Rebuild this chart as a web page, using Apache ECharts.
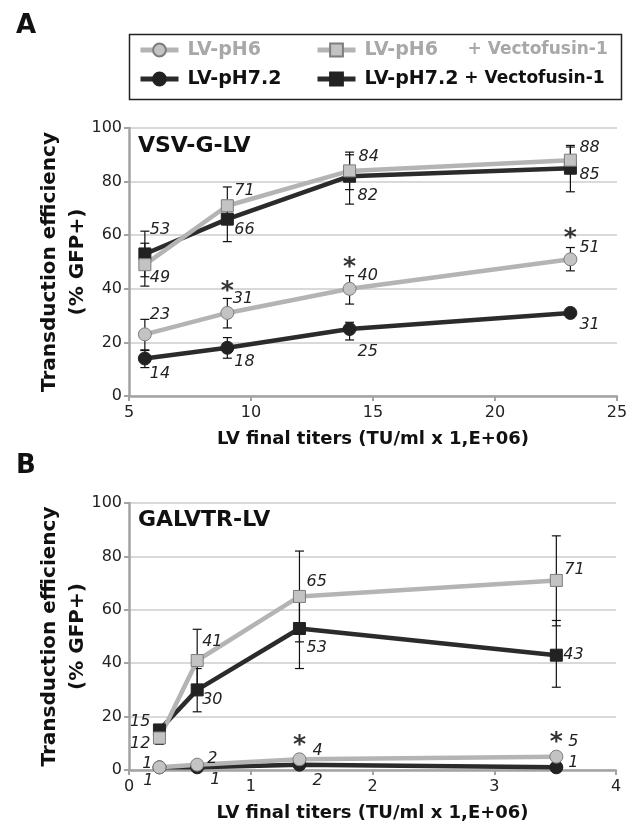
<!DOCTYPE html>
<html>
<head>
<meta charset="utf-8">
<title>LV transduction efficiency</title>
<style>html,body{margin:0;padding:0;background:#fff;}</style>
</head>
<body>
<div id="main" style="width:628px;height:833px;"></div>
<script src="https://cdn.jsdelivr.net/npm/echarts@6/dist/echarts.min.js"></script>
<script>

// ---- panel A : VSV-G-LV ----
var titersA = [5.65, 9.03, 14.04, 23.09];
var ph6A    = [23, 31, 40, 51];
var ph72A   = [14, 18, 25, 31];
var ph6vA   = [49, 71, 84, 88];
var ph72vA  = [53, 66, 82, 85];
var errPh6A   = [[17.2, 28.6], [25.4, 36.4], [34.3, 44.9], [46.7, 55.4]];
var errPh72A  = [[10.6, 17], [14.1, 21.8], [20.9, 27.5], null];
var errPh6vA  = [[41, 57], [64, 78], [77, 91], [83, 92.9]];
var errPh72vA = [[44.5, 61.5], [57.6, 72.6], [71.6, 90], [76.2, 93.5]];
var starsA = [1, 2, 3];   // significant points of LV-pH6

// ---- panel B : GALVTR-LV ----
var titersB = [0.25, 0.56, 1.40, 3.51];
var ph6B    = [1, 2, 4, 5];
var ph72B   = [1, 1, 2, 1];
var ph6vB   = [12, 41, 65, 71];
var ph72vB  = [15, 30, 53, 43];
var errPh6vB  = [[9.6, 14.4], [29, 52.7], [48, 82], [54, 87.7]];
var errPh72vB = [[13, 17], [21.8, 38], [38, 67], [31, 56]];
var starsB = [2, 3];

var yTicks = [0, 20, 40, 60, 80, 100];

// label placement (dx, dy from the marker centre) - not data
var labA = {
    ph6:   [[5, -20], [5.5, -14.5], [8, -12.5], [9, -11.5]],
    ph72:  [[5, 15], [7, 14], [8, 22.5], [9, 12]],
    ph6v:  [[5, 12.7], [7, -15], [9, -14.5], [9, -12]],
    ph72v: [[5, -24.5], [7, 11], [8, 20], [9, 7]]
};
var labB = {
    ph6:   [[-7, -3], [10, -6], [13, -8], [12, -15]],
    ph72:  [[-6, 14], [13, 13], [13, 16], [12, -4]],
    ph6v:  [[-9, 5.6], [5, -19], [7, -15], [8, -11]],
    ph72v: [[-9, -8], [5, 10], [7, 19], [7, 0]]
};

var LIGHT = '#b4b4b4', DARK = '#2b2b2b';
var FONT = 'DejaVu Sans';

var looks = {
    'LV-pH6':                  {symbol: 'circle', line: LIGHT, fill: '#c3c3c3', border: '#7d7d7d', size: 13},
    'LV-pH7.2':                {symbol: 'circle', line: DARK,  fill: '#222',    border: '#222',    size: 13},
    'LV-pH6 + Vectofusin-1':   {symbol: 'rect',   line: LIGHT, fill: '#c3c3c3', border: '#7d7d7d', size: 12},
    'LV-pH7.2 + Vectofusin-1': {symbol: 'rect',   line: DARK,  fill: '#222',    border: '#222',    size: 12}
};

function lineSeries(name, xs, ys, offs, idx) {
    var lk = looks[name];
    var data = ys.map(function (v, i) {
        var o = offs[i];
        return {
            value: [xs[i], v],
            label: {offset: [o[0], o[1]], align: o[0] < 0 ? 'right' : 'left'}
        };
    });
    return {
        name: name, type: 'line', xAxisIndex: idx, yAxisIndex: idx,
        data: data, symbol: lk.symbol, symbolSize: lk.size, showSymbol: true,
        lineStyle: {color: lk.line, width: 4.5},
        itemStyle: {color: lk.fill, borderColor: lk.border, borderWidth: 1},
        label: {
            show: true, position: 'inside', verticalAlign: 'middle',
            fontFamily: FONT, fontStyle: 'italic', fontSize: 16, color: '#222',
            formatter: function (p) { return p.value[1]; }
        },
        emphasis: {disabled: true},
        z: 3
    };
}

function errSeries(xs, errs, idx) {
    var data = [];
    errs.forEach(function (list) {
        list.forEach(function (e, i) {
            if (e) data.push([xs[i], e[0], e[1]]);
        });
    });
    return {
        type: 'custom', xAxisIndex: idx, yAxisIndex: idx, data: data, z: 2,
        silent: true,
        renderItem: function (params, api) {
            var top = api.coord([api.value(0), api.value(2)]);
            var bot = api.coord([api.value(0), api.value(1)]);
            var w = 4.5;
            var st = {stroke: '#111', lineWidth: 1.2};
            return {type: 'group', children: [
                {type: 'line', shape: {x1: top[0], y1: top[1], x2: bot[0], y2: bot[1]}, style: st},
                {type: 'line', shape: {x1: top[0] - w, y1: top[1], x2: top[0] + w, y2: top[1]}, style: st},
                {type: 'line', shape: {x1: bot[0] - w, y1: bot[1], x2: bot[0] + w, y2: bot[1]}, style: st}
            ]};
        }
    };
}

function starSeries(xs, ys, which, idx, dy) {
    return {
        type: 'scatter', xAxisIndex: idx, yAxisIndex: idx, silent: true,
        data: which.map(function (i) { return [xs[i], ys[i]]; }),
        symbolSize: 1, itemStyle: {color: 'rgba(0,0,0,0)'},
        label: {
            show: true, position: 'inside', offset: [0, dy], formatter: '*',
            fontFamily: FONT, fontWeight: 'bold', fontSize: 25, color: '#000'
        },
        z: 4
    };
}

function xAxis(idx, min, max, interval) {
    return {
        type: 'value', gridIndex: idx, min: min, max: max, interval: interval,
        name: 'LV final titers (TU/ml x 1,E+06)', nameLocation: 'middle', nameGap: 34,
        nameMoveOverlap: false,
        nameTextStyle: {fontFamily: FONT, fontWeight: 'bold', fontSize: 18, color: '#111'},
        axisLine: {show: true, lineStyle: {color: '#a3a3a3', width: 2.5}},
        axisTick: {show: true, length: 5, lineStyle: {color: '#a3a3a3', width: 2}},
        axisLabel: {fontFamily: FONT, fontSize: 16, color: '#222', margin: 9},
        splitLine: {show: false}
    };
}

function yAxis(idx) {
    return {
        type: 'value', gridIndex: idx, min: yTicks[0], max: yTicks[yTicks.length - 1],
        interval: yTicks[1] - yTicks[0],
        name: 'Transduction efficiency\n(% GFP+)', nameLocation: 'middle', nameGap: 37,
        nameMoveOverlap: false,
        nameTextStyle: {fontFamily: FONT, fontWeight: 'bold', fontSize: 20, color: '#111', lineHeight: 28},
        axisLine: {show: true, lineStyle: {color: '#a3a3a3', width: 2.5}},
        axisTick: {show: true, length: 5, lineStyle: {color: '#a3a3a3', width: 2}},
        axisLabel: {fontFamily: FONT, fontSize: 16, color: '#222', margin: 7},
        splitLine: {show: true, lineStyle: {color: '#d9d9d9', width: 2}}
    };
}

function legendAt(name, left, top, color, fmt) {
    return {
        data: [name], left: left, top: top, padding: 0, selectedMode: false,
        itemWidth: 38, itemHeight: 16,
        lineStyle: {width: 5},
        textStyle: {
            fontFamily: FONT, fontWeight: 'bold', fontSize: 19, color: color, lineHeight: 20,
            padding: [0, 0, 0, 4],
            rich: {
                v: {fontFamily: FONT, fontWeight: 'bold', fontSize: 17, color: color}
            }
        },
        formatter: fmt
    };
}

var myChart = echarts.init(document.getElementById('main'));

var option = {
    animation: false,
    backgroundColor: '#fff',
    textStyle: {fontFamily: FONT},
    title: [
        {text: 'A', left: 11, top: 8, textStyle: {fontFamily: FONT, fontWeight: 'bold', fontSize: 26, color: '#111'}},
        {text: 'B', left: 11, top: 448, textStyle: {fontFamily: FONT, fontWeight: 'bold', fontSize: 26, color: '#111'}},
        {text: 'VSV-G-LV', left: 133, top: 130, textStyle: {fontFamily: FONT, fontWeight: 'bold', fontSize: 22, color: '#111'}},
        {text: 'GALVTR-LV', left: 133, top: 504, textStyle: {fontFamily: FONT, fontWeight: 'bold', fontSize: 22, color: '#111'}}
    ],
    legend: [
        legendAt('LV-pH6', 138, 40, '#a8a8a8'),
        legendAt('LV-pH7.2', 138, 69, '#111'),
        legendAt('LV-pH6 + Vectofusin-1', 315, 40, '#a8a8a8',
            function () { return 'LV-pH6{v|     + Vectofusin-1}'; }),
        legendAt('LV-pH7.2 + Vectofusin-1', 315, 69, '#111',
            function () { return 'LV-pH7.2{v| + Vectofusin-1}'; })
    ],
    graphic: [{
        type: 'rect', left: 127, top: 32, silent: true,
        shape: {width: 492, height: 65},
        style: {fill: 'none', stroke: '#222', lineWidth: 1.5}
    }],
    grid: [
        {left: 129, top: 128, width: 488, height: 268, outerBoundsMode: 'none'},
        {left: 129, top: 503, width: 487, height: 267, outerBoundsMode: 'none'}
    ],
    xAxis: [xAxis(0, 5, 25, 5), xAxis(1, 0, 4, 1)],
    yAxis: [yAxis(0), yAxis(1)],
    series: [
        errSeries(titersA, [errPh6A, errPh72A, errPh6vA, errPh72vA], 0),
        lineSeries('LV-pH7.2', titersA, ph72A, labA.ph72, 0),
        lineSeries('LV-pH6', titersA, ph6A, labA.ph6, 0),
        lineSeries('LV-pH7.2 + Vectofusin-1', titersA, ph72vA, labA.ph72v, 0),
        lineSeries('LV-pH6 + Vectofusin-1', titersA, ph6vA, labA.ph6v, 0),
        starSeries(titersA, ph6A, starsA, 0, -21),

        errSeries(titersB, [errPh6vB, errPh72vB], 1),
        lineSeries('LV-pH7.2', titersB, ph72B, labB.ph72, 1),
        lineSeries('LV-pH6', titersB, ph6B, labB.ph6, 1),
        lineSeries('LV-pH7.2 + Vectofusin-1', titersB, ph72vB, labB.ph72v, 1),
        lineSeries('LV-pH6 + Vectofusin-1', titersB, ph6vB, labB.ph6v, 1),
        starSeries(titersB, ph6B, starsB, 1, -14)
    ]
};

myChart.setOption(option);
</script>
</body>
</html>
